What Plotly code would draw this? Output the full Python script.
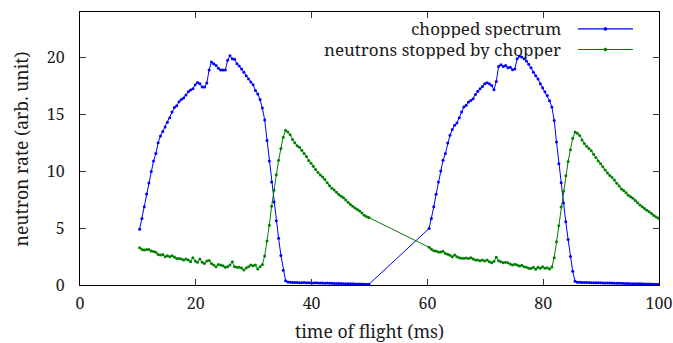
import numpy as np
import plotly.graph_objects as go

# Time-of-flight bins (ms): two chopper periods, 0.4 ms bins
t_start_1 = 10.3
t_start_2 = 60.3
bin_width = 0.4

# Chopped spectrum, first period
blue1 = [4.9, 5.85, 6.87, 8.0, 8.97, 9.97, 10.9, 11.55, 12.5, 13.1,
         13.5, 13.9, 14.3, 14.7, 15.2, 15.6, 15.75, 16.1, 16.3, 16.45,
         16.7, 17.0, 17.15, 17.25, 17.6, 17.8, 17.7, 17.4, 17.4, 17.75,
         18.9, 19.6, 19.45, 19.3, 19.05, 18.9, 18.9, 18.9, 19.75, 20.15,
         19.9, 19.85, 19.45, 19.25, 19.0, 18.7, 18.4, 18.1, 17.85, 17.6,
         17.1, 16.8, 16.3, 15.55, 14.5, 12.7, 10.9, 9.06, 7.3, 5.65,
         4.1, 2.6, 1.3, 0.38,
         0.26, 0.24, 0.22, 0.22, 0.21, 0.2, 0.2, 0.21, 0.19, 0.2,
         0.19, 0.18, 0.19, 0.18, 0.17, 0.18, 0.16, 0.17, 0.15, 0.15,
         0.14, 0.14, 0.13, 0.13, 0.12, 0.12, 0.11, 0.1, 0.1, 0.09,
         0.09, 0.08, 0.08, 0.07, 0.07, 0.06]

# Chopped spectrum, second period
blue2 = [4.97, 5.85, 6.87, 7.98, 9.06, 10.03, 10.96, 11.55, 12.48, 13.16,
         13.66, 14.04, 14.24, 14.7, 15.2, 15.64, 15.8, 16.08, 16.23, 16.38,
         16.75, 17.04, 17.25, 17.46, 17.69, 17.78, 17.69, 17.54, 17.17, 17.9,
         19.2, 19.36, 19.2, 19.3, 19.1, 19.15, 18.92, 19.0, 19.88, 20.1,
         20.05, 19.88, 19.7, 19.4, 19.1, 18.7, 18.4, 18.1, 17.7, 17.35,
         17.0, 16.67, 16.2, 15.64, 14.47, 12.57, 10.67, 9.0, 7.2, 5.55,
         4.0, 2.5, 1.2, 0.32,
         0.25, 0.24, 0.23, 0.22, 0.22, 0.21, 0.2, 0.2, 0.19, 0.2,
         0.19, 0.18, 0.18, 0.17, 0.18, 0.17, 0.16, 0.16, 0.15, 0.15,
         0.14, 0.14, 0.13, 0.12, 0.12, 0.11, 0.11, 0.1, 0.1, 0.09,
         0.09, 0.08, 0.08, 0.07, 0.07, 0.06]

# Neutrons stopped by the chopper, first period
green1 = [3.27, 3.13, 3.07, 3.13, 3.13, 2.98, 2.95, 2.87, 2.69, 2.63,
          2.69, 2.49, 2.57, 2.49, 2.57, 2.46, 2.34, 2.34, 2.28, 2.19,
          2.28, 2.19, 2.05, 2.4, 2.1, 1.99, 2.28, 1.99, 1.9, 2.1,
          2.16, 1.9, 1.75, 1.61, 1.81, 1.75, 1.7, 1.55, 1.61, 1.75,
          2.05, 1.61, 1.55, 1.55, 1.5, 1.32, 1.5, 1.61, 1.75, 1.7,
          1.75, 1.4, 1.61, 1.81,
          2.55, 3.86, 5.26, 6.93, 8.33, 9.7, 10.96, 12.0, 13.0,
          13.6, 13.45, 13.2, 12.8, 12.5, 12.25, 12.1, 11.85, 11.55, 11.3,
          10.95, 10.7, 10.45, 10.15, 9.9, 9.68, 9.5, 9.28, 9.0, 8.72,
          8.5, 8.35, 8.15, 7.95, 7.8, 7.67, 7.48, 7.27, 7.08, 6.92,
          6.77, 6.63, 6.5, 6.33, 6.14, 6.0, 5.93]

# Neutrons stopped by the chopper, second period
green2 = [3.31, 3.14, 3.02, 2.99, 2.9, 2.9, 2.96, 2.78, 2.7, 2.61,
          2.49, 2.64, 2.49, 2.4, 2.35, 2.35, 2.38, 2.32, 2.4, 2.29,
          2.2, 2.2, 2.14, 2.2, 2.11, 2.2, 2.05, 1.96, 2.08, 2.43,
          2.14, 2.05, 1.96, 1.99, 1.96, 1.85, 1.76, 1.82, 1.76, 1.67,
          1.73, 1.61, 1.55, 1.47, 1.44, 1.55, 1.38, 1.55, 1.47, 1.61,
          1.47, 1.52, 1.4, 1.58,
          2.4, 3.8, 5.2, 6.85, 8.25, 9.6, 10.85, 11.9, 12.9,
          13.45, 13.35, 13.15, 12.75, 12.45, 12.2, 12.0, 11.8, 11.5, 11.2,
          10.9, 10.65, 10.4, 10.1, 9.85, 9.62, 9.45, 9.22, 8.95, 8.7,
          8.45, 8.3, 8.1, 7.9, 7.75, 7.62, 7.42, 7.22, 7.04, 6.88,
          6.72, 6.58, 6.45, 6.28, 6.1, 5.98, 5.87]

series_names = ["chopped spectrum", "neutrons stopped by chopper"]
series_colors = ["#0000ff", "#008000"]

x_ticks = [0, 20, 40, 60, 80, 100]
y_ticks = [0, 5, 10, 15, 20]
x_title = "time of flight (ms)"
y_title = "neutron rate (arb. unit)"

t1 = t_start_1 + bin_width * np.arange(len(blue1))
t2 = t_start_2 + bin_width * np.arange(len(blue2))
tof = np.concatenate([t1, t2])

TEXT = "#1a1a1a"
FONT = "Noto Serif"
FS_TITLE = 17.6
FS_KEY = 17
FS_TICK = 16

fig = go.Figure()
for name, color, vals in [
    (series_names[0], series_colors[0], blue1 + blue2),
    (series_names[1], series_colors[1], green1 + green2),
]:
    fig.add_trace(go.Scatter(
        x=tof, y=vals, name=name, mode="lines+markers",
        line=dict(color=color, width=1),
        marker=dict(color=color, size=3, symbol="circle"),
        showlegend=False,
    ))

# gnuplot-style key: text right-aligned, sample line with a point to its right
key_rows = [0.938, 0.8626]
for name, color, ky in zip(series_names, series_colors, key_rows):
    fig.add_annotation(xref="paper", yref="paper", x=0.834, y=ky,
                       xanchor="right", yanchor="middle", text=name, height=19,
                       showarrow=False, font=dict(family=FONT, size=FS_KEY, color=TEXT))
    fig.add_shape(type="line", xref="paper", yref="paper",
                  x0=0.860, x1=0.955, y0=ky, y1=ky,
                  line=dict(color=color, width=1.2))
    fig.add_shape(type="circle", xref="paper", yref="paper",
                  x0=0.9075 - 0.0025, x1=0.9075 + 0.0025,
                  y0=ky - 0.005, y1=ky + 0.005,
                  line=dict(color=color, width=1), fillcolor=color)

# axis titles placed in paper coordinates below / left of the frame
fig.add_annotation(xref="paper", yref="paper", x=0.5, y=-0.17,
                   xanchor="center", yanchor="middle", text=x_title,
                   showarrow=False, font=dict(family=FONT, size=FS_TITLE, color=TEXT))
fig.add_annotation(xref="paper", yref="paper", x=-0.102, y=0.5,
                   xanchor="center", yanchor="middle", text=y_title, textangle=-90,
                   showarrow=False, font=dict(family=FONT, size=FS_TITLE, color=TEXT))

axis_common = dict(
    showgrid=False, zeroline=False, automargin=False,
    showline=True, linecolor="#000000", linewidth=1.3, mirror="ticks",
    ticks="inside", ticklen=6, tickwidth=1, tickcolor="#333333",
    ticklabeloverflow="allow",
    tickfont=dict(family=FONT, size=FS_TICK, color=TEXT),
)

fig.update_xaxes(range=[0, 100], tickvals=x_ticks, ticklabelstandoff=4, **axis_common)
fig.update_yaxes(range=[0, 24], tickvals=y_ticks, ticklabelstandoff=11, **axis_common)

fig.update_layout(
    width=673, height=343,
    margin=dict(l=80, r=14, t=12, b=58),
    paper_bgcolor="white", plot_bgcolor="white",
)

fig.write_html("out.html")
